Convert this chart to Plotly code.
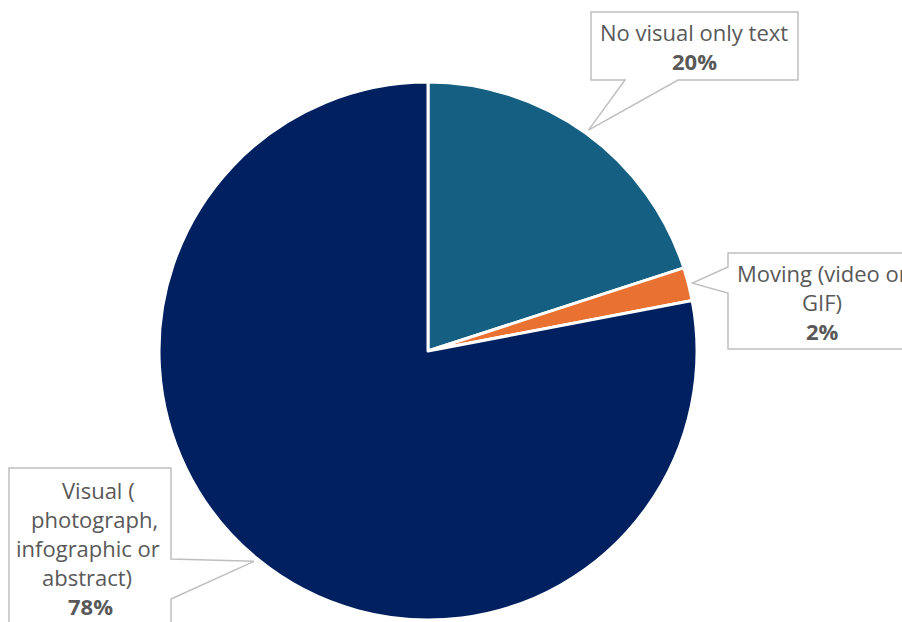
import math
import plotly.graph_objects as go

# ---- data ----
categories = ["No visual only text", "Moving (video or GIF)", "Visual ( photograph, infographic or abstract)"]
values = [20, 2, 78]
colors = ["#156082", "#E97132", "#002060"]
label_lines = [
    ["No visual only text"],
    ["Moving (video or", "GIF)"],
    ["Visual (", "photograph,", "infographic or", "abstract)"],
]

W, H = 902, 622
CX, CY, R = 428, 351, 269


def px(x):
    return x / W


def py(y):
    return 1 - y / H


fig = go.Figure(go.Pie(
    labels=categories,
    values=values,
    sort=False,
    direction="clockwise",
    rotation=0,
    marker=dict(colors=colors, line=dict(color="white", width=3)),
    textinfo="none",
    hoverinfo="label+percent",
    showlegend=False,
    domain=dict(x=[px(CX - R), px(CX + R)], y=[py(CY + R), py(CY - R)]),
))

total = sum(values)
# callout boxes: (x0, y0, x1, y1), pointer side, base (a, b), text centre x, first line y
callouts = [
    dict(box=(591, 12, 798, 80), side="bottom", base=(625, 678), cx=[694], y0=32),
    dict(box=(728, 253, 915, 349), side="left", base=(267, 293), cx=[822], y0=273),
    dict(box=(9, 468, 171, 640), side="right", base=(559, 599), cx=[98, 94, 88, 87, 90], y0=490),
]

shapes = []
annotations = []
cum = 0
for i, v in enumerate(values):
    mid = (cum + v / 2) / total * 2 * math.pi
    cum += v
    tx = CX + (R + 4) * math.sin(mid)
    ty = CY - (R + 4) * math.cos(mid)
    c = callouts[i]
    x0, y0, x1, y1 = c["box"]
    a, b = c["base"]
    pts = [(x0, y0), (x1, y0)]
    if c["side"] == "right":
        pts += [(x1, a), (tx, ty), (x1, b)]
    pts += [(x1, y1)]
    if c["side"] == "bottom":
        pts += [(b, y1), (tx, ty), (a, y1)]
    pts += [(x0, y1)]
    if c["side"] == "left":
        pts += [(x0, b), (tx, ty), (x0, a)]
    path = "M " + " L ".join(f"{px(x):.5f},{py(y):.5f}" for x, y in pts) + " Z"
    shapes.append(dict(type="path", xref="paper", yref="paper", path=path,
                       line=dict(color="#BFBFBF", width=1.5), fillcolor="white", layer="above"))
    lines = label_lines[i] + [f"<b>{round(v / total * 100)}%</b>"]
    for j, t in enumerate(lines):
        cx = c["cx"][j] if len(c["cx"]) > 1 else c["cx"][0]
        annotations.append(dict(
            x=px(cx), y=py(c["y0"] + 29 * j), xref="paper", yref="paper",
            text=t, showarrow=False, xanchor="center", yanchor="middle",
            font=dict(family="Open Sans", size=22, color="#595959"),
        ))

fig.update_layout(
    width=W, height=H,
    margin=dict(l=0, r=0, t=0, b=0),
    paper_bgcolor="white",
    plot_bgcolor="white",
    shapes=shapes,
    annotations=annotations,
)

fig.write_html("out.html", config={"displayModeBar": False},
               post_script="document.body.style.margin='0';document.body.style.overflow='hidden';")
